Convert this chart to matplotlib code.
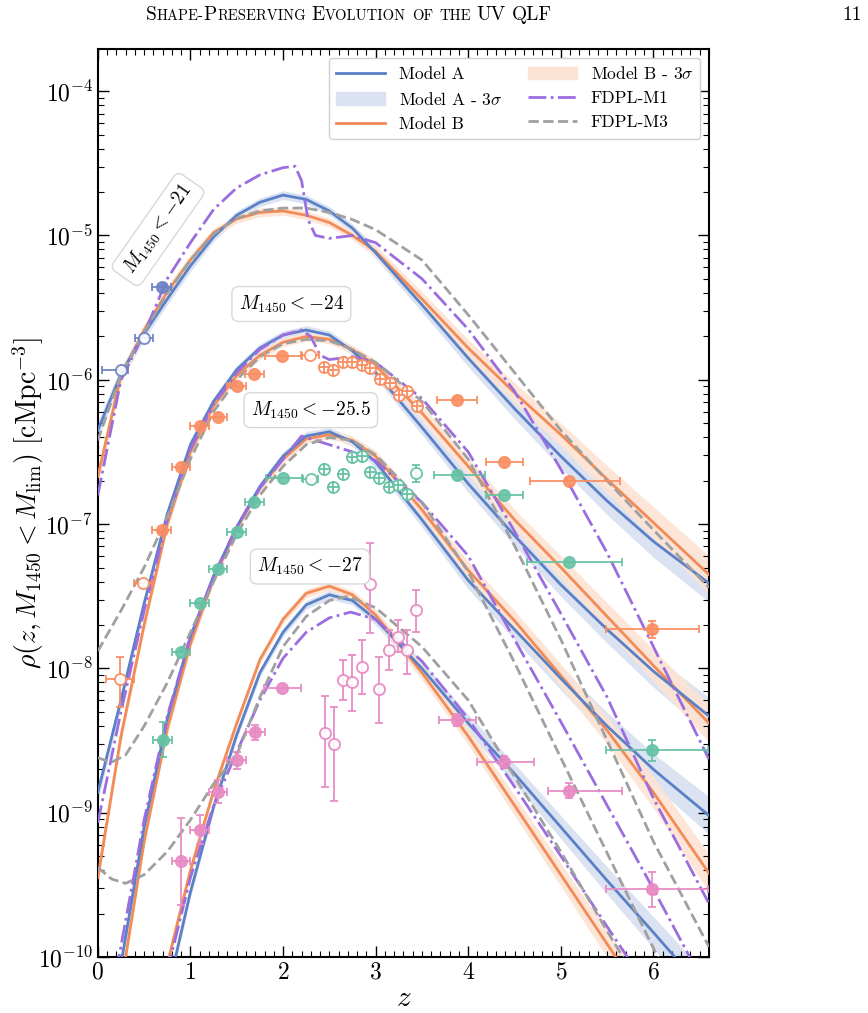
import numpy as np
import matplotlib.pyplot as plt
from matplotlib.lines import Line2D
from matplotlib.patches import Patch
from matplotlib.ticker import MultipleLocator, LogLocator, NullFormatter

plt.rcParams['font.family'] = 'serif'
plt.rcParams['font.serif'] = ['cmr10']
plt.rcParams['mathtext.fontset'] = 'cm'
plt.rcParams['axes.formatter.use_mathtext'] = True

# ---- model curves: log10 rho on a common z grid ----
z_grid = [0, 0.25, 0.5, 0.75, 1.0, 1.25, 1.5, 1.75, 2.0, 2.25, 2.5, 2.75, 3.0,
          3.5, 4.0, 4.5, 5.0, 5.5, 6.0, 6.6]

A21 = [-6.35, -5.96, -5.68, -5.44, -5.21, -5.01, -4.86, -4.77, -4.72, -4.75,
       -4.83, -4.95, -5.12, -5.48, -5.85, -6.2, -6.53, -6.84, -7.12, -7.41]
B21 = [-6.67, -5.97, -5.655, -5.39, -5.17, -4.98, -4.885, -4.84, -4.83, -4.86,
       -4.91, -5.0, -5.11, -5.44, -5.78, -6.09, -6.38, -6.69, -6.99, -7.35]
A24 = [-8.86, -8.22, -7.55, -6.93, -6.45, -6.15, -5.93, -5.78, -5.69, -5.655,
       -5.69, -5.8, -5.95, -6.33, -6.72, -7.08, -7.42, -7.73, -8.02, -8.33]
B24 = [-9.45, -8.47, -7.7, -7.0, -6.5, -6.18, -5.97, -5.83, -5.74, -5.70,
       -5.72, -5.79, -5.9, -6.23, -6.6, -6.97, -7.3, -7.64, -7.98, -8.38]
A25 = [-11.6, -10.05, -9.1, -8.35, -7.78, -7.36, -7.02, -6.74, -6.53, -6.39,
       -6.36, -6.43, -6.57, -6.97, -7.39, -7.73, -8.07, -8.4, -8.7, -9.02]
B25 = [-12.0, -10.2, -9.2, -8.42, -7.83, -7.38, -7.03, -6.75, -6.55, -6.41,
       -6.38, -6.42, -6.53, -6.9, -7.32, -7.67, -8.05, -8.43, -8.86, -9.42]
A27 = [-14.0, -12.5, -11.2, -10.25, -9.55, -8.96, -8.46, -8.03, -7.75, -7.56,
       -7.49, -7.53, -7.66, -8.0, -8.38, -8.73, -9.1, -9.47, -9.83, -10.27]
B27 = [-14.0, -12.5, -11.1, -10.05, -9.4, -8.85, -8.38, -7.94, -7.66, -7.48,
       -7.43, -7.49, -7.63, -8.03, -8.47, -8.95, -9.43, -9.91, -10.39, -10.96]

# 3-sigma half widths (dex)
wA = [0.06, 0.05, 0.04, 0.04, 0.04, 0.03, 0.03, 0.03, 0.03, 0.03, 0.03, 0.03,
      0.04, 0.05, 0.06, 0.07, 0.08, 0.095, 0.11, 0.13]
wB = [0.06, 0.05, 0.04, 0.04, 0.04, 0.03, 0.03, 0.03, 0.03, 0.03, 0.03, 0.03,
      0.04, 0.05, 0.06, 0.07, 0.08, 0.095, 0.11, 0.13]

# FDPL-M1 (dash-dot)
z_M1_21 = [0, 0.25, 0.5, 0.75, 1.0, 1.25, 1.5, 1.75, 2.0, 2.13, 2.2, 2.27, 2.35,
           2.5, 2.75, 3.0, 3.5, 4.0, 4.5, 5.0, 5.5, 6.0, 6.6]
M1_21 = [-6.8, -6.0, -5.68, -5.3, -5.05, -4.82, -4.67, -4.58, -4.53, -4.52,
         -4.62, -4.89, -5.0, -5.02, -5.0, -5.05, -5.3, -5.65, -6.08, -6.62,
         -7.2, -7.85, -8.63]
z_M1_24 = [0, 0.25, 0.5, 0.75, 1.0, 1.25, 1.5, 1.75, 2.0, 2.2, 2.3, 2.4, 2.5,
           2.75, 3.0, 3.5, 4.0, 4.5, 5.0, 5.5, 6.0, 6.6]
M1_24 = [-9.07, -8.3, -7.6, -6.97, -6.48, -6.17, -5.95, -5.79, -5.69, -5.655,
         -5.7, -5.83, -5.86, -5.84, -5.88, -6.13, -6.5, -7.05, -7.62, -8.2,
         -8.9, -9.63]
z_M1_25 = [0.2, 0.5, 0.75, 1.0, 1.25, 1.5, 1.75, 2.0, 2.2, 2.35, 2.5, 2.75,
           3.0, 3.5, 4.0, 4.5, 5.0, 5.5, 6.0, 6.6]
M1_25 = [-10.1, -9.05, -8.33, -7.78, -7.36, -7.02, -6.75, -6.55, -6.39,
         -6.42, -6.45, -6.5, -6.56, -6.85, -7.22, -7.8, -8.37, -8.95, -9.53,
         -10.25]
z_M1_27 = [0.75, 1.0, 1.25, 1.5, 1.75, 2.0, 2.25, 2.5, 2.73, 3.0, 3.5, 4.0,
           4.5, 5.0, 5.5, 6.0]
M1_27 = [-10.1, -9.45, -8.95, -8.58, -8.22, -7.93, -7.75, -7.65, -7.61,
         -7.66, -7.95, -8.35, -8.82, -9.3, -9.79, -10.27]

# FDPL-M3 (dashed)
z_M3_21 = [0, 0.25, 0.5, 0.75, 1.0, 1.25, 1.5, 1.75, 2.0, 2.25, 2.5, 2.75,
           3.0, 3.5, 4.0, 4.5, 5.0, 5.5, 6.0, 6.6]
M3_21 = [-6.42, -5.96, -5.67, -5.40, -5.17, -4.99, -4.88, -4.83, -4.81, -4.81,
         -4.84, -4.89, -4.96, -5.17, -5.55, -5.95, -6.35, -6.7, -7.04, -7.44]
z_M3_24 = [0, 0.25, 0.5, 0.75, 1.0, 1.25, 1.5, 1.75, 2.0, 2.25, 2.5, 2.75,
           3.0, 3.5, 4.0, 4.5, 5.0, 5.5, 6.0, 6.6]
M3_24 = [-7.88, -7.6, -7.3, -6.95, -6.55, -6.22, -6.0, -5.84, -5.75, -5.72,
         -5.73, -5.79, -5.88, -6.15, -6.55, -7.15, -7.8, -8.5, -9.2, -9.93]
z_M3_25 = [0, 0.15, 0.3, 0.5, 0.75, 1.0, 1.25, 1.5, 1.75, 2.0, 2.25, 2.5,
           2.75, 3.0, 3.5, 4.0, 4.5, 5.0, 5.5, 6.0, 6.6]
M3_25 = [-8.62, -8.65, -8.6, -8.4, -8.1, -7.75, -7.4, -7.07, -6.8, -6.6,
         -6.45, -6.4, -6.42, -6.52, -6.85, -7.33, -7.96, -8.62, -9.28, -9.94, -10.7]
z_M3_27 = [0, 0.15, 0.3, 0.5, 0.75, 1.0, 1.25, 1.5, 1.75, 2.0, 2.25, 2.5, 2.7,
           3.0, 3.5, 4.0, 4.5, 5.0, 5.5, 6.0]
M3_27 = [-9.38, -9.46, -9.49, -9.43, -9.27, -9.05, -8.8, -8.6, -8.2, -7.85,
         -7.64, -7.53, -7.5, -7.58, -7.85, -8.22, -8.75, -9.27, -9.82, -10.35]

# ---- observational points ----
# M < -21
d21_fill_z, d21_fill_v, d21_fill_xe = [0.69], [4.4e-6], [0.1]
d21_open_z, d21_open_v = [0.25, 0.5], [1.16e-6, 1.95e-6]
d21_open_xlo, d21_open_xhi = [0.21, 0.1], [0.08, 0.1]

# M < -24
d24_fill_z = [0.69, 0.9, 1.1, 1.3, 1.5, 1.69, 1.99, 3.88, 4.39, 5.09, 5.99]
d24_fill_v = [9.1e-8, 2.5e-7, 4.8e-7, 5.5e-7, 9.1e-7, 1.1e-6, 1.46e-6,
              7.2e-7, 2.7e-7, 2.0e-7, 1.86e-8]
d24_fill_xlo = [0.1, 0.1, 0.1, 0.1, 0.1, 0.1, 0.18, 0.22, 0.2, 0.42, 0.5]
d24_fill_xhi = [0.1, 0.1, 0.1, 0.1, 0.1, 0.1, 0.21, 0.22, 0.2, 0.55, 0.5]
d24_fill_ye = [0, 0, 0, 0, 0, 0, 0, 0, 0, 0, 0.06]
d24_open_z = [0.24, 0.49, 2.29]
d24_open_v = [8.4e-9, 3.9e-8, 1.48e-6]
d24_open_xe = [0.15, 0.1, 0.1]
d24_open_ylo = [3.0e-9, 0, 0]
d24_open_yhi = [3.6e-9, 0, 0]
d24_cross_z = [2.44, 2.54, 2.65, 2.75, 2.85, 2.94, 3.05, 3.15, 3.25, 3.34, 3.45]
d24_cross_v = [1.23e-6, 1.17e-6, 1.32e-6, 1.32e-6, 1.26e-6, 1.2e-6, 1.02e-6,
               9.5e-7, 7.9e-7, 8.3e-7, 6.6e-7]

# M < -25.5
d25_fill_z = [0.7, 0.9, 1.1, 1.3, 1.5, 1.69, 2.0, 3.88, 4.39, 5.09, 5.99]
d25_fill_v = [3.2e-9, 1.3e-8, 2.85e-8, 4.9e-8, 8.85e-8, 1.43e-7, 2.1e-7,
              2.2e-7, 1.6e-7, 5.5e-8, 2.7e-9]
d25_fill_xlo = [0.1, 0.1, 0.1, 0.1, 0.1, 0.1, 0.18, 0.25, 0.2, 0.45, 0.5]
d25_fill_xhi = [0.1, 0.1, 0.1, 0.1, 0.1, 0.1, 0.2, 0.3, 0.2, 0.57, 0.6]
d25_fill_ye = [0.12, 0, 0, 0, 0, 0, 0, 0, 0, 0, 0.07]
d25_open_z = [2.3, 3.44]
d25_open_v = [2.05e-7, 2.25e-7]
d25_open_xe = [0.08, 0.0]
d25_open_ye = [0.0, 0.06]
d25_cross_z = [2.44, 2.54, 2.65, 2.75, 2.85, 2.94, 3.04, 3.14, 3.24, 3.34]
d25_cross_v = [2.4e-7, 1.82e-7, 2.24e-7, 2.9e-7, 2.95e-7, 2.3e-7, 2.1e-7,
               1.82e-7, 1.86e-7, 1.62e-7]

# M < -27
d27_fill_z = [0.9, 1.1, 1.3, 1.5, 1.7, 1.99, 3.88, 4.39, 5.09, 5.99]
d27_fill_v = [4.6e-10, 7.6e-10, 1.4e-9, 2.3e-9, 3.6e-9, 7.3e-9, 4.4e-9,
              2.25e-9, 1.42e-9, 2.95e-10]
d27_fill_xlo = [0.1, 0.1, 0.1, 0.1, 0.1, 0.2, 0.2, 0.29, 0.23, 0.5]
d27_fill_xhi = [0.1, 0.1, 0.1, 0.1, 0.1, 0.2, 0.2, 0.32, 0.57, 0.6]
d27_fill_ylog = [0.3, 0.1, 0.08, 0.06, 0.05, 0.0, 0.04, 0.04, 0.05, 0.12]
d27_open_z = [2.45, 2.55, 2.645, 2.745, 2.85, 2.944, 3.04, 3.14, 3.24, 3.34, 3.44]
d27_open_v = [3.58e-9, 3.0e-9, 8.3e-9, 8.1e-9, 1.03e-8, 3.83e-8, 7.2e-9,
              1.34e-8, 1.64e-8, 1.34e-8, 2.54e-8]
d27_open_hi = [6.4e-9, 5.4e-9, 1.15e-8, 1.24e-8, 1.58e-8, 7.4e-8, 1.2e-8,
               1.85e-8, 2.16e-8, 1.85e-8, 3.5e-8]
d27_open_lo = [1.5e-9, 1.2e-9, 6.0e-9, 5.1e-9, 6.6e-9, 1.75e-8, 4.2e-9,
               9.8e-9, 1.3e-8, 9.2e-9, 1.8e-8]

# ---- styles ----
c_A, c_B = '#5a80c6', '#f28b56'
c_M1, c_M3 = '#9b6ddf', '#a0a0a0'
band_A, band_B = '#dbe3f2', '#fde3d4'
col21, col24, col25, col27 = '#6d82c4', '#fa8e62', '#66c2a5', '#e88ac4'

fig = plt.figure(figsize=(8.68, 10.13), dpi=100)
ax = fig.add_axes([0.1127, 0.0553, 0.7041, 0.896])

zg = np.array(z_grid)
for A, B in [(A21, B21), (A24, B24), (A25, B25), (A27, B27)]:
    A = np.array(A)
    B = np.array(B)
    ax.fill_between(zg, 10 ** (A - np.array(wA)), 10 ** (A + np.array(wA)),
                    color=band_A, lw=0, zorder=1)
    ax.fill_between(zg, 10 ** (B - np.array(wB)), 10 ** (B + np.array(wB)),
                    color=band_B, lw=0, alpha=0.9, zorder=1)
    ax.plot(zg, 10 ** B, color=c_B, lw=2, zorder=3)
    ax.plot(zg, 10 ** A, color=c_A, lw=2, zorder=3)

for zz, mm in [(z_M1_21, M1_21), (z_M1_24, M1_24), (z_M1_25, M1_25), (z_M1_27, M1_27)]:
    ax.plot(zz, 10 ** np.array(mm), color=c_M1, lw=2, ls='-.', zorder=4)
for zz, mm in [(z_M3_21, M3_21), (z_M3_24, M3_24), (z_M3_25, M3_25), (z_M3_27, M3_27)]:
    ax.plot(zz, 10 ** np.array(mm), color=c_M3, lw=2, ls='--', zorder=4)

ekw = dict(ls='none', capsize=3, elinewidth=1.4, capthick=1.4, zorder=5)


def arr(e, n):
    return np.broadcast_to(np.asarray(e, dtype=float), (n,))


def draw_pts(z, v, xlo, xhi, ylo, yhi, col, face):
    n = len(z)
    xe = np.vstack([arr(xlo, n), arr(xhi, n)])
    ye = np.vstack([arr(ylo, n), arr(yhi, n)])
    ax.errorbar(z, v, xerr=xe, yerr=ye, fmt='o', ms=8, color=col,
                mfc=face if face else col, mec=col, mew=1.4, alpha=0.9, **ekw)


def crossed(z, v, col):
    ax.plot(z, v, 'o', ms=8, mfc='white', mec=col, mew=1.3, ls='none', zorder=5)
    ax.plot(z, v, '+', ms=8, mec=col, mew=1.3, ls='none', zorder=6)


def dexerr(v, d):
    v = np.array(v)
    d = np.array(d)
    return v - v * 10 ** (-d), v * 10 ** d - v


# -21
draw_pts(d21_fill_z, d21_fill_v, d21_fill_xe, d21_fill_xe, 0, 0, col21, None)
draw_pts(d21_open_z, d21_open_v, d21_open_xlo, d21_open_xhi, 0, 0, col21, 'white')
# -24
lo, hi = dexerr(d24_fill_v, d24_fill_ye)
draw_pts(d24_fill_z, d24_fill_v, d24_fill_xlo, d24_fill_xhi, lo, hi, col24, None)
draw_pts(d24_open_z, d24_open_v, d24_open_xe, d24_open_xe, d24_open_ylo,
         d24_open_yhi, col24, 'white')
crossed(d24_cross_z, d24_cross_v, col24)
# -25.5
lo, hi = dexerr(d25_fill_v, d25_fill_ye)
draw_pts(d25_fill_z, d25_fill_v, d25_fill_xlo, d25_fill_xhi, lo, hi, col25, None)
lo, hi = dexerr(d25_open_v, d25_open_ye)
draw_pts(d25_open_z, d25_open_v, d25_open_xe, d25_open_xe, lo, hi, col25, 'white')
crossed(d25_cross_z, d25_cross_v, col25)
# -27
lo, hi = dexerr(d27_fill_v, d27_fill_ylog)
draw_pts(d27_fill_z, d27_fill_v, d27_fill_xlo, d27_fill_xhi, lo, hi, col27, None)
v = np.array(d27_open_v)
draw_pts(d27_open_z, d27_open_v, 0, 0, v - np.array(d27_open_lo),
         np.array(d27_open_hi) - v, col27, 'white')

# ---- labels in boxes ----
bkw = dict(boxstyle='round,pad=0.35', fc='white', ec='#d8d8d8', lw=1)
ax.text(0.65, 1.1e-5, r'$M_{1450}<-21$', fontsize=14, rotation=55,
        ha='center', va='center', bbox=bkw, zorder=7)
ax.text(2.09, 3.35e-6, r'$M_{1450}<-24$', fontsize=14, ha='center', va='center',
        bbox=bkw, zorder=7)
ax.text(2.3, 6.16e-7, r'$M_{1450}<-25.5$', fontsize=14, ha='center',
        va='center', bbox=bkw, zorder=7)
ax.text(2.29, 5.08e-8, r'$M_{1450}<-27$', fontsize=14, ha='center', va='center',
        bbox=bkw, zorder=7)

# ---- axes ----
ax.set_yscale('log')
ax.set_xlim(0, 6.6)
ax.set_ylim(1e-10, 1.95e-4)
ax.xaxis.set_minor_locator(MultipleLocator(0.1))
ax.yaxis.set_major_locator(LogLocator(base=10, numticks=20))
ax.yaxis.set_minor_locator(LogLocator(base=10, subs=np.arange(2, 10), numticks=100))
ax.yaxis.set_minor_formatter(NullFormatter())
ax.tick_params(which='both', direction='in', top=True, right=True, labelsize=17)
ax.tick_params(which='major', length=8, width=1)
ax.tick_params(which='minor', length=4, width=0.8)
for s in ax.spines.values():
    s.set_linewidth(1.5)
ax.set_xlabel(r'$z$', fontsize=21)
ax.set_ylabel(r'$\rho(z, M_{1450} < M_{\rm lim})\ [{\rm cMpc}^{-3}]$', fontsize=20)
ax.yaxis.set_label_coords(-0.085, 0.5)
ax.xaxis.set_label_coords(0.5, -0.032)

handles = [Line2D([], [], color=c_A, lw=2),
           Patch(color=band_A),
           Line2D([], [], color=c_B, lw=2),
           Patch(color=band_B),
           Line2D([], [], color=c_M1, lw=2, ls='-.'),
           Line2D([], [], color=c_M3, lw=2, ls='--')]
labels = ['Model A', r'Model A - 3$\sigma$', 'Model B', r'Model B - 3$\sigma$',
          'FDPL-M1', 'FDPL-M3']
ax.legend(handles, labels, loc='upper right', ncol=2, fontsize=12.5,
          framealpha=1, edgecolor='#d0d0d0', handlelength=2.8,
          columnspacing=1.5, borderaxespad=0.5)

# ---- running header (small caps) ----
pieces = [('S', 14, 0), ('HAPE-', 10.5, 0), ('P', 14, 0), ('RESERVING', 10.5, 6),
          ('E', 14, 0), ('VOLUTION', 10.5, 6), ('OF', 10.5, 6), ('THE', 10.5, 6),
          ('UV', 14, 6), ('QLF', 14, 0)]
r = fig.canvas.get_renderer()
x = 146.0
ybase = 1013 - 20.0
for s, fs, gap in pieces:
    t = fig.text(x / 868, ybase / 1013, s, fontsize=fs, va='baseline', ha='left')
    bb = t.get_window_extent(renderer=r)
    x = bb.x1 + gap
fig.text(842 / 868, ybase / 1013, '11', fontsize=14, va='baseline', ha='left')

fig.savefig('out.png', dpi=100)
